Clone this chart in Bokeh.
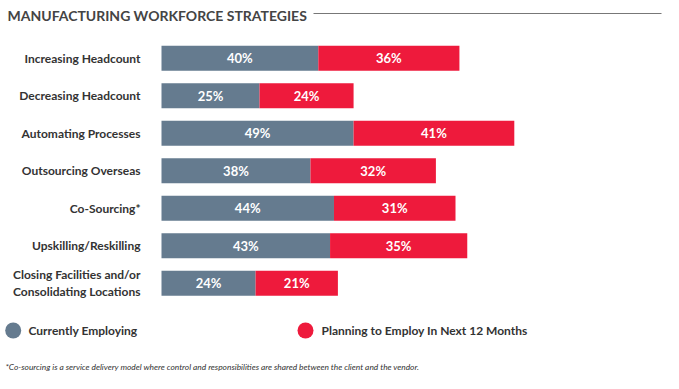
from bokeh.plotting import figure
from bokeh.models import Range1d, ColumnDataSource
from bokeh.core.properties import value
from bokeh.embed import file_html
from bokeh.resources import INLINE

categories = ["Increasing Headcount", "Decreasing Headcount", "Automating Processes",
              "Outsourcing Overseas", "Co-Sourcing*", "Upskilling/Reskilling",
              "Closing Facilities and/or\nConsolidating Locations"]
current = [40, 25, 49, 38, 44, 43, 24]
planning = [36, 24, 41, 32, 31, 35, 21]
series_names = ["Currently Employing", "Planning to Employ In Next 12 Months"]
title_text = "MANUFACTURING WORKFORCE STRATEGIES"
footnote = ("*Co-sourcing is a service delivery model where control and responsibilities "
            "are shared between the client and the vendor.")

GREY = "#657b8f"
RED = "#ee1a3c"
FONT = "Lato"

W, H = 663, 373
PX_PER_PCT = 3.92
X0_PX = 161.0          # frame px of 0%
ROW_PX = 37.5
ROW0_PX = 57.8         # frame px (from top) of first row centre

x_start = -X0_PX / PX_PER_PCT
x_end = (W - X0_PX) / PX_PER_PCT
y_top = -ROW0_PX / ROW_PX
y_bot = (H - ROW0_PX) / ROW_PX

def px_x(sx):  # frame px -> data x
    return (sx - X0_PX) / PX_PER_PCT

def px_y(sy):  # frame px -> data y
    return (sy - ROW0_PX) / ROW_PX

p = figure(width=W, height=H, output_backend="svg", toolbar_location=None,
           x_range=Range1d(x_start, x_end), y_range=Range1d(y_bot, y_top),
           min_border=0)
p.axis.visible = False
p.grid.visible = False
p.outline_line_color = None
p.background_fill_color = "white"
p.border_fill_color = "white"

rows = list(range(len(categories)))
total = [c + q for c, q in zip(current, planning)]
src = ColumnDataSource(dict(
    y=rows, cat=categories, cur=current, plan=planning, tot=total,
    cur_mid=[c / 2 for c in current],
    plan_mid=[c + q / 2 for c, q in zip(current, planning)],
    cur_lab=[f"{c}%" for c in current], plan_lab=[f"{q}%" for q in planning],
    zero=[0] * len(rows),
))

p.hbar(y="y", left="zero", right="cur", height=0.67, source=src,
       fill_color=GREY, line_color=None)
p.hbar(y="y", left="cur", right="tot", height=0.67, source=src,
       fill_color=RED, line_color=None)

p.text(x="cur_mid", y="y", text="cur_lab", source=src, text_color="white",
       text_font=value(FONT), text_font_style="bold", text_font_size="13px",
       text_align="center", text_baseline="middle")
p.text(x="plan_mid", y="y", text="plan_lab", source=src, text_color="white",
       text_font=value(FONT), text_font_style="bold", text_font_size="13px",
       text_align="center", text_baseline="middle")

p.text(x="zero", y="y", text="cat", source=src, x_offset=-21, text_color="#333333",
       text_font=value(FONT), text_font_style="bold", text_font_size="12px",
       text_align="right", text_baseline="middle", text_line_height=1.15)

# title
p.text(x=[px_x(7)], y=[px_y(15)], text=[title_text], text_color="#444444",
       text_font=value(FONT), text_font_style="bold", text_font_size="14px",
       text_align="left", text_baseline="middle")
p.segment(x0=[px_x(313)], y0=[px_y(13)], x1=[px_x(661)], y1=[px_y(13)],
          line_color="#777777", line_width=1)

# legend
p.scatter(x=[px_x(12.7), px_x(305)], y=[px_y(330), px_y(330)], size=16,
          fill_color=[GREY, RED], line_color=None)
p.text(x=[px_x(28), px_x(321)], y=[px_y(330), px_y(330)], text=series_names,
       text_color="#333333", text_font=value(FONT), text_font_style="bold",
       text_font_size="12px", text_align="left", text_baseline="middle")

# footnote
p.text(x=[px_x(5)], y=[px_y(366)], text=[footnote], text_color="#333333",
       text_font=value(FONT), text_font_style="italic", text_font_size="8.4px",
       text_align="left", text_baseline="middle")

open("out.html", "w").write(file_html(p, INLINE))
